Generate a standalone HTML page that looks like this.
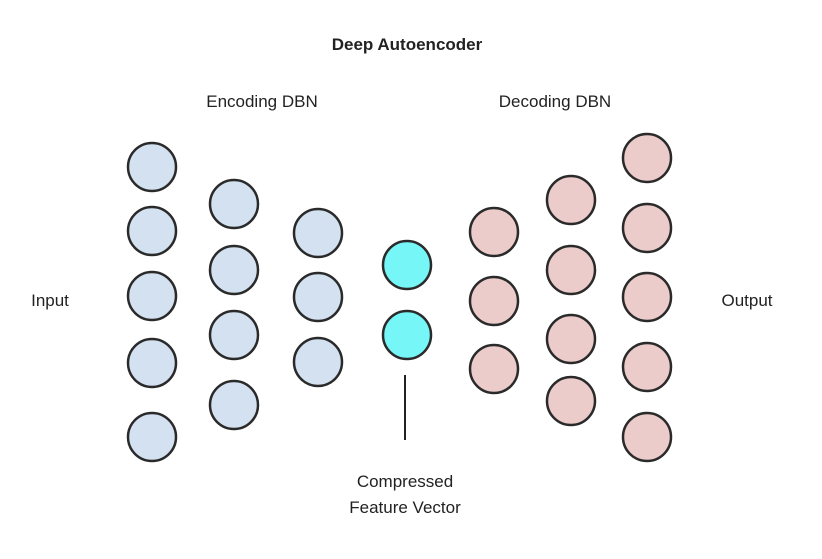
<!DOCTYPE html>
<html><head><style>
body{margin:0;width:822px;height:554px;background:#fff;overflow:hidden}
svg text{font-family:"Liberation Sans",sans-serif;fill:#222}
</style></head><body>
<svg width="822" height="554" viewBox="0 0 822 554">
<text x="407" y="50" font-size="17" font-weight="bold" text-anchor="middle">Deep Autoencoder</text>
<text x="262" y="107" font-size="17" text-anchor="middle">Encoding DBN</text>
<text x="555" y="107" font-size="17" text-anchor="middle">Decoding DBN</text>
<text x="50" y="306" font-size="17" text-anchor="middle">Input</text>
<text x="747" y="306" font-size="17" text-anchor="middle">Output</text>
<text x="405" y="487" font-size="17" text-anchor="middle">Compressed</text>
<text x="405" y="513" font-size="17" text-anchor="middle">Feature Vector</text>
<line x1="405" y1="375" x2="405" y2="440" stroke="#222" stroke-width="2"/>
<g stroke="#2a2a2a" stroke-width="2.5" fill="#d3e1f0">
<circle cx="152" cy="167" r="24"/><circle cx="152" cy="231" r="24"/><circle cx="152" cy="296" r="24"/><circle cx="152" cy="363" r="24"/><circle cx="152" cy="437" r="24"/>
<circle cx="234" cy="204" r="24"/><circle cx="234" cy="270" r="24"/><circle cx="234" cy="335" r="24"/><circle cx="234" cy="405" r="24"/>
<circle cx="318" cy="233" r="24"/><circle cx="318" cy="297" r="24"/><circle cx="318" cy="362" r="24"/>
</g>
<g stroke="#2a2a2a" stroke-width="2.5" fill="#76f6f6">
<circle cx="407" cy="265" r="24"/><circle cx="407" cy="335" r="24"/>
</g>
<g stroke="#2a2a2a" stroke-width="2.5" fill="#eccbcb">
<circle cx="494" cy="232" r="24"/><circle cx="494" cy="301" r="24"/><circle cx="494" cy="369" r="24"/>
<circle cx="571" cy="200" r="24"/><circle cx="571" cy="270" r="24"/><circle cx="571" cy="339" r="24"/><circle cx="571" cy="401" r="24"/>
<circle cx="647" cy="158" r="24"/><circle cx="647" cy="228" r="24"/><circle cx="647" cy="297" r="24"/><circle cx="647" cy="367" r="24"/><circle cx="647" cy="437" r="24"/>
</g>
</svg>
</body></html>
